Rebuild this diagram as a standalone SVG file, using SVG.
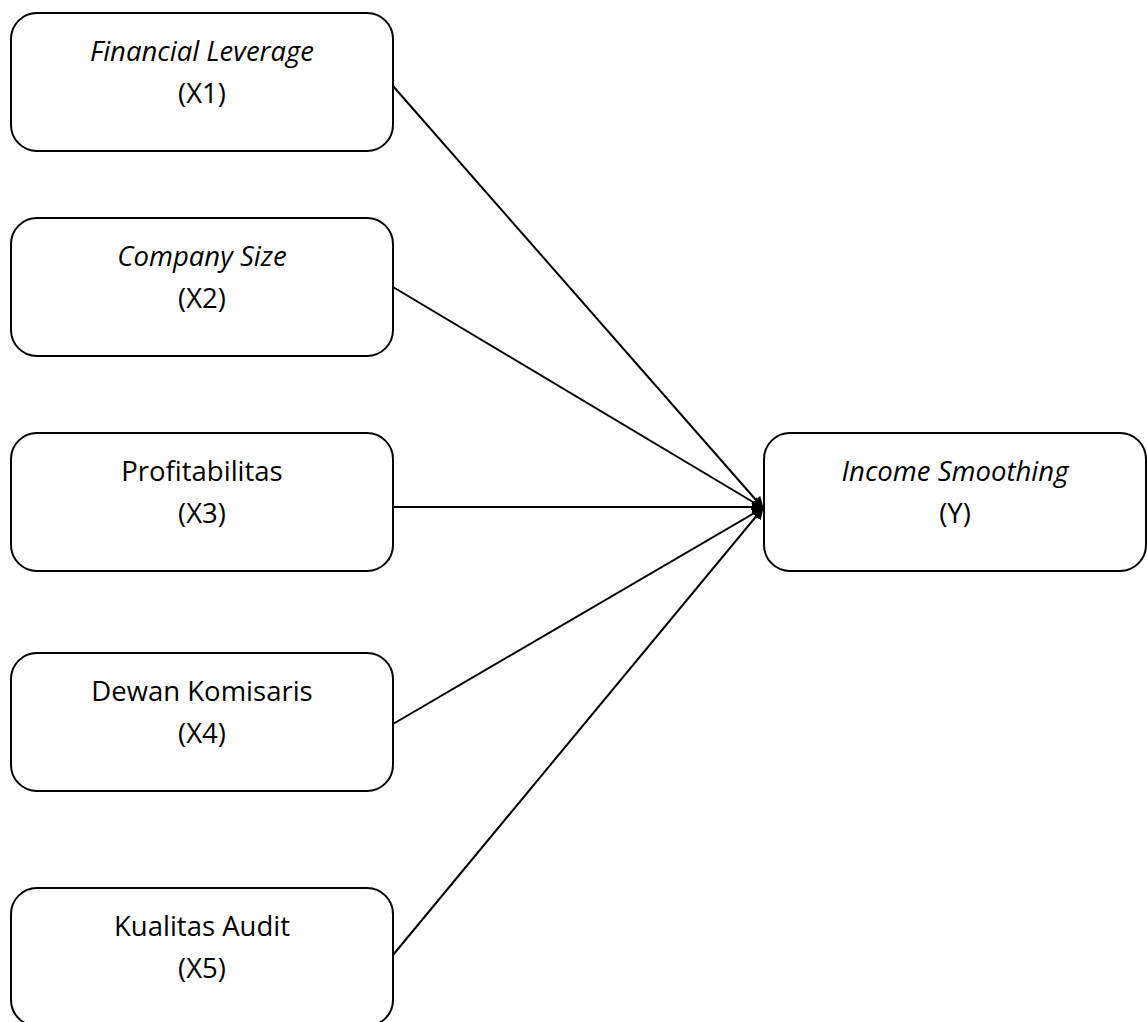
<svg xmlns="http://www.w3.org/2000/svg" width="1147" height="1022" viewBox="0 0 1147 1022">
<style>
.box{fill:#fff;stroke:#000;stroke-width:2}
.t{font-family:"Open Sans","Liberation Sans",sans-serif;font-size:27.5px;text-anchor:middle;fill:#000}
.i{font-style:italic}
.c{stroke:#000;stroke-width:2;fill:none;marker-end:url(#ah)}
</style>
<defs>
<marker id="ah" markerWidth="12" markerHeight="12" refX="11" refY="6" orient="auto" markerUnits="userSpaceOnUse">
<path d="M0,0 L12,6 L0,12 Z" fill="#000"/>
</marker>
</defs>
<g id="connectors">
<line class="c" x1="393" y1="86" x2="763" y2="508"/>
<line class="c" x1="393" y1="287" x2="763" y2="508"/>
<line class="c" x1="393" y1="507" x2="763" y2="507"/>
<line class="c" x1="393" y1="724" x2="763" y2="508"/>
<line class="c" x1="393" y1="955" x2="763" y2="508"/>
</g>
<g id="x1">
<rect class="box" x="11" y="13" width="382" height="138" rx="26"/>
<text class="t i" x="202" y="61">Financial Leverage</text>
<text class="t" x="202" y="103">(X1)</text>
</g>
<g id="x2">
<rect class="box" x="11" y="218" width="382" height="138" rx="26"/>
<text class="t i" x="202" y="266">Company Size</text>
<text class="t" x="202" y="308">(X2)</text>
</g>
<g id="x3">
<rect class="box" x="11" y="433" width="382" height="138" rx="26"/>
<text class="t" x="202" y="481">Profitabilitas</text>
<text class="t" x="202" y="523">(X3)</text>
</g>
<g id="x4">
<rect class="box" x="11" y="653" width="382" height="138" rx="26"/>
<text class="t" x="202" y="701">Dewan Komisaris</text>
<text class="t" x="202" y="743">(X4)</text>
</g>
<g id="x5">
<rect class="box" x="11" y="888" width="382" height="138" rx="26"/>
<text class="t" x="202" y="936">Kualitas Audit</text>
<text class="t" x="202" y="978">(X5)</text>
</g>
<g id="y">
<rect class="box" x="764" y="433" width="382" height="138" rx="26"/>
<text class="t i" x="955" y="481">Income Smoothing</text>
<text class="t" x="955" y="523">(Y)</text>
</g>
</svg>
